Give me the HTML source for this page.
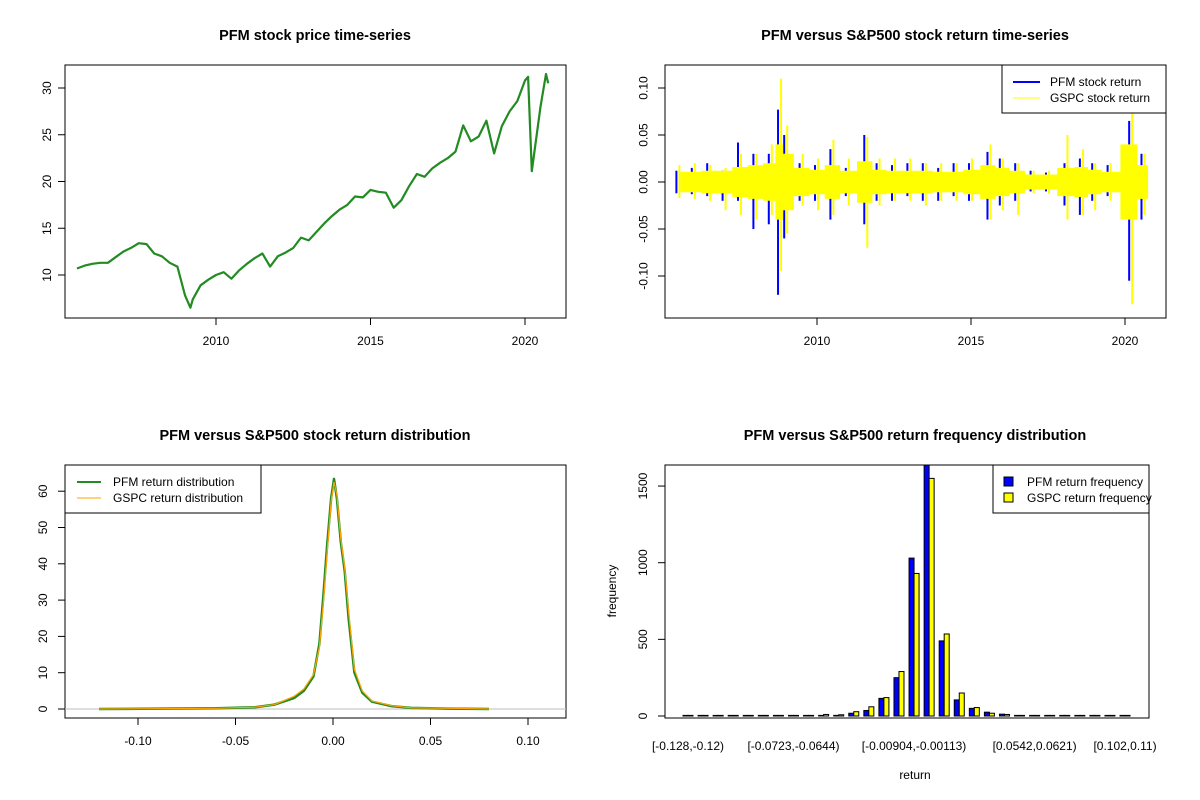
<!DOCTYPE html>
<html><head><meta charset="utf-8"><style>
body{margin:0;background:#fff;}
svg{display:block;font-family:"Liberation Sans",Arial,sans-serif;}
</style></head><body>
<svg id="s" width="1200" height="800" xmlns="http://www.w3.org/2000/svg"></svg>
<script>
// ---- Panel 1: price ----
const priceDates=[2005.5,2005.75,2006.0,2006.25,2006.5,2006.75,2007.0,2007.25,2007.5,2007.75,2008.0,2008.25,2008.5,2008.75,2009.0,2009.17,2009.25,2009.5,2009.75,2010.0,2010.25,2010.5,2010.75,2011.0,2011.25,2011.5,2011.75,2012.0,2012.25,2012.5,2012.75,2013.0,2013.25,2013.5,2013.75,2014.0,2014.25,2014.5,2014.75,2015.0,2015.25,2015.5,2015.75,2016.0,2016.25,2016.5,2016.75,2017.0,2017.25,2017.5,2017.75,2018.0,2018.25,2018.5,2018.75,2019.0,2019.25,2019.5,2019.75,2020.0,2020.1,2020.22,2020.5,2020.68,2020.75];
const priceValues=[10.7,11.0,11.2,11.3,11.3,11.9,12.5,12.9,13.4,13.3,12.3,12.0,11.3,10.9,7.8,6.5,7.4,8.9,9.5,10.0,10.3,9.6,10.5,11.2,11.8,12.3,10.9,12.0,12.4,12.9,14.0,13.7,14.6,15.5,16.3,17.0,17.5,18.4,18.3,19.1,18.9,18.8,17.2,18.0,19.5,20.8,20.5,21.4,22.0,22.5,23.2,26.0,24.3,24.8,26.5,23.0,25.9,27.5,28.6,30.8,31.2,21.1,28.0,31.5,30.5];
const priceYTicks=[10,15,20,25,30];
const yearTicks=[2010,2015,2020];
// ---- Panel 2: returns (half-year envelopes) ----
const retDates=[2005.5,2006.0,2006.5,2007.0,2007.5,2008.0,2008.5,2008.8,2009.0,2009.5,2010.0,2010.5,2011.0,2011.6,2012.0,2012.5,2013.0,2013.5,2014.0,2014.5,2015.0,2015.6,2016.0,2016.5,2017.0,2017.5,2018.1,2018.6,2019.0,2019.5,2020.2,2020.6];
const pfmHigh=[.012,.015,.02,.012,.042,.03,.03,.077,.05,.02,.018,.035,.015,.05,.02,.018,.02,.02,.015,.02,.02,.032,.025,.02,.012,.01,.02,.025,.02,.018,.065,.03];
const pfmLow=[-.012,-.013,-.015,-.02,-.02,-.05,-.045,-.12,-.06,-.02,-.02,-.04,-.015,-.045,-.02,-.02,-.015,-.02,-.02,-.015,-.02,-.04,-.025,-.02,-.01,-.01,-.025,-.035,-.02,-.015,-.105,-.04];
const gspcHigh=[.018,.02,.018,.015,.03,.03,.04,.11,.06,.03,.025,.045,.025,.048,.025,.025,.025,.02,.02,.02,.025,.04,.025,.02,.012,.012,.05,.035,.02,.02,.09,.03];
const gspcLow=[-.017,-.018,-.02,-.03,-.035,-.04,-.035,-.095,-.055,-.025,-.03,-.035,-.025,-.07,-.025,-.02,-.02,-.025,-.02,-.02,-.02,-.04,-.03,-.035,-.012,-.012,-.04,-.035,-.03,-.02,-.13,-.035];
const retCore=[.011,.011,.012,.012,.016,.018,.02,.04,.03,.015,.013,.018,.012,.022,.013,.012,.012,.012,.011,.011,.013,.018,.015,.012,.008,.008,.015,.016,.013,.011,.04,.018];
const retYTicks=[-0.10,-0.05,0.00,0.05,0.10];
// ---- Panel 3: density ----
const densX=[-0.12,-0.06,-0.04,-0.03,-0.02,-0.015,-0.01,-0.007,-0.005,-0.003,-0.001,0.0005,0.002,0.004,0.006,0.008,0.011,0.015,0.02,0.03,0.04,0.06,0.08];
const pfmDens=[0,0.2,0.5,1.2,3,5,9,18,31,45,58,63.4,58,46,38,25,10,4.5,2,0.8,0.3,0.1,0];
const gspcDens=[0,0.2,0.5,1.2,3.5,5.5,9.5,17,29,43,57,62.5,59,47,39,27,11,5,2.2,0.9,0.3,0.2,0];
const densXTicks=[-0.10,-0.05,0.00,0.05,0.10];
const densYTicks=[0,10,20,30,40,50,60];
// ---- Panel 4: histogram ----
const binLabels=["[-0.128,-0.12)","","","","","","","[-0.0723,-0.0644)","","","","","","","","[-0.00904,-0.00113)","","","","","","","","[0.0542,0.0621)","","","","","","[0.102,0.11)"];
const pfmFreq=[0,0,0,0,2,0,1,2,2,3,4,18,36,115,250,1030,1700,490,105,50,25,12,3,2,3,2,0,2,0,0];
const gspcFreq=[0,0,0,0,1,0,1,2,2,10,8,28,60,120,290,930,1550,535,150,55,18,10,2,3,2,1,0,1,0,0];
const freqYTicks=[0,500,1000,1500];

const S=document.getElementById('s');const NS='http://www.w3.org/2000/svg';
function mk(tag,at,parent){const e=document.createElementNS(NS,tag);for(const k in at)e.setAttribute(k,at[k]);(parent||S).appendChild(e);return e;}
function txt(x,y,t,o){const e=mk('text',Object.assign({x:x,y:y,'font-size':12,'text-anchor':'middle',fill:'#000'},o||{}));e.textContent=t;return e;}
function box(x1,y1,x2,y2,name){const r=mk('rect',{x:x1,y:y1,width:x2-x1,height:y2-y1,fill:'none',stroke:'#000','stroke-width':1});

}

// Titles
[[315,40,'PFM stock price time-series','title-price'],[915,40,'PFM versus S&P500 stock return time-series','title-returns'],[315,440,'PFM versus S&P500 stock return distribution','title-distribution'],[915,440,'PFM versus S&P500 return frequency distribution','title-frequency']].forEach(a=>{const t=txt(a[0],a[1],a[2],{'font-size':14.5,'font-weight':'bold'});

});

// ---- Panel 1 ----
const px1=t=>216+(t-2010)*30.9, py1=v=>275-(v-10)*9.35;
box(65,65,566,318,'price-plot-area');
let d='';priceDates.forEach((t,i)=>{d+=(i?'L':'M')+px1(t).toFixed(1)+','+py1(priceValues[i]).toFixed(1);});
const pl=mk('path',{d:d,fill:'none',stroke:'#228b22','stroke-width':2.2,'stroke-linejoin':'round'});


priceYTicks.forEach(v=>{const y=py1(v);mk('line',{x1:58,x2:65,y1:y,y2:y,stroke:'#000'});const t=txt(51,y,String(v),{transform:`rotate(-90 51 ${y})`});

});
yearTicks.forEach(v=>{const x=px1(v);mk('line',{x1:x,x2:x,y1:318,y2:325,stroke:'#000'});const t=txt(x,345,String(v));

});

// ---- Panel 2 ----
const px2=t=>817+(t-2010)*30.8, py2=v=>182-v*940;
const g2=mk('g',{});


retDates.forEach((t,i)=>{const x=px2(t);const r=mk('rect',{x:x-3,y:py2(pfmHigh[i]),width:2,height:py2(pfmLow[i])-py2(pfmHigh[i]),fill:'#0000ff'},g2);

});
// GSPC core band (step)
const x0=px2(2005.5)+2, xEnd=px2(2020.75);
function edgeX(i){return i==0?x0:(px2(retDates[i-1])+px2(retDates[i]))/2;}
function edgeX2(i){return i==retDates.length-1?xEnd:(px2(retDates[i])+px2(retDates[i+1]))/2;}
let up='',dn='';
retDates.forEach((t,i)=>{up+=(i?'L':'M')+edgeX(i).toFixed(1)+','+py2(retCore[i]).toFixed(1)+'L'+edgeX2(i).toFixed(1)+','+py2(retCore[i]).toFixed(1);});
for(let i=retDates.length-1;i>=0;i--)dn+='L'+edgeX2(i).toFixed(1)+','+py2(-retCore[i]).toFixed(1)+'L'+edgeX(i).toFixed(1)+','+py2(-retCore[i]).toFixed(1);
const band=mk('path',{d:up+dn+'Z',fill:'#ffff00',stroke:'none'},g2);


retDates.forEach((t,i)=>{const x=px2(t);const r=mk('rect',{x:x,y:py2(gspcHigh[i]),width:2,height:py2(gspcLow[i])-py2(gspcHigh[i]),fill:'#ffff00'},g2);

});
box(665,65,1166,318,'returns-plot-area');
retYTicks.forEach(v=>{const y=py2(v);mk('line',{x1:658,x2:665,y1:y,y2:y,stroke:'#000'});const t=txt(647,y+0.5,v.toFixed(2),{transform:`rotate(-90 647 ${y})`});

});
yearTicks.forEach(v=>{const x=px2(v);mk('line',{x1:x,x2:x,y1:318,y2:325,stroke:'#000'});const t=txt(x,345,String(v));

});
const lg2=mk('g',{});


mk('rect',{x:1002,y:65,width:164,height:48,fill:'#fff',stroke:'#000'},lg2);
mk('line',{x1:1013,x2:1040,y1:82,y2:82,stroke:'#0000ff','stroke-width':2},lg2);
mk('line',{x1:1013,x2:1040,y1:98,y2:98,stroke:'#ffff00','stroke-width':1},lg2);
lg2.appendChild(txt(1050,86,'PFM stock return',{'text-anchor':'start'}));
lg2.appendChild(txt(1050,102,'GSPC stock return',{'text-anchor':'start'}));

// ---- Panel 3 ----
const px3=v=>333+v*1950, py3=v=>709-v*3.63;
box(65,465,566,718,'distribution-plot-area');
const zl=mk('line',{x1:65,x2:566,y1:py3(0),y2:py3(0),stroke:'#bebebe'});


function dpath(arr){let s='';densX.forEach((x,i)=>{s+=(i?'L':'M')+px3(x).toFixed(1)+','+py3(arr[i]).toFixed(1);});return s;}
const gl=mk('path',{d:dpath(pfmDens),fill:'none',stroke:'#228b22','stroke-width':2.5,'stroke-linejoin':'round'});


const ol=mk('path',{d:dpath(gspcDens),fill:'none',stroke:'#ffa500','stroke-width':1.2});


densYTicks.forEach(v=>{const y=py3(v);mk('line',{x1:58,x2:65,y1:y,y2:y,stroke:'#000'});const t=txt(47,y,String(v),{transform:`rotate(-90 47 ${y})`});

});
densXTicks.forEach(v=>{const x=px3(v);mk('line',{x1:x,x2:x,y1:718,y2:725,stroke:'#000'});const t=txt(x,745,v.toFixed(2));

});
const lg3=mk('g',{});


mk('rect',{x:65,y:465,width:196,height:48,fill:'#fff',stroke:'#000'},lg3);
mk('line',{x1:77,x2:101,y1:482,y2:482,stroke:'#228b22','stroke-width':2},lg3);
mk('line',{x1:77,x2:101,y1:498,y2:498,stroke:'#ffa500','stroke-width':1},lg3);
lg3.appendChild(txt(113,486,'PFM return distribution',{'text-anchor':'start'}));
lg3.appendChild(txt(113,502,'GSPC return distribution',{'text-anchor':'start'}));

// ---- Panel 4 ----
const bx=i=>688+i*15.07, py4=v=>716-v*0.1533;
const cp=mk('clipPath',{id:'c4'});
mk('rect',{x:665,y:465,width:484,height:253},cp);
const g4=mk('g',{'clip-path':'url(#c4)'});


pfmFreq.forEach((v,i)=>{const c=bx(i);
const ha=Math.max(py4(0)-py4(v),0.6), hb=Math.max(py4(0)-py4(gspcFreq[i]),0.6);
const a=mk('rect',{x:c-5,y:py4(0)-ha,width:5,height:ha,fill:'#0000ff',stroke:'#000','stroke-width':1},g4);


const b=mk('rect',{x:c,y:py4(0)-hb,width:5,height:hb,fill:'#ffff00',stroke:'#000','stroke-width':1},g4);

});
box(665,465,1149,718,'frequency-plot-area');
freqYTicks.forEach(v=>{const y=py4(v);mk('line',{x1:658,x2:665,y1:y,y2:y,stroke:'#000'});const t=txt(647,y,String(v),{transform:`rotate(-90 647 ${y})`});

});
binLabels.forEach((l,i)=>{if(!l)return;const t=txt(bx(i),750,l);

});
const yl=txt(616,591,'frequency',{transform:'rotate(-90 616 591)'});


const xl=txt(915,779,'return');


const lg4=mk('g',{});


mk('rect',{x:993,y:465,width:156,height:48,fill:'#fff',stroke:'#000'},lg4);
mk('rect',{x:1004,y:477,width:9,height:9,fill:'#0000ff',stroke:'#000'},lg4);
mk('rect',{x:1004,y:493,width:9,height:9,fill:'#ffff00',stroke:'#000'},lg4);
lg4.appendChild(txt(1027,486,'PFM return frequency',{'text-anchor':'start'}));
lg4.appendChild(txt(1027,502,'GSPC return frequency',{'text-anchor':'start'}));
</script>
</body></html>
